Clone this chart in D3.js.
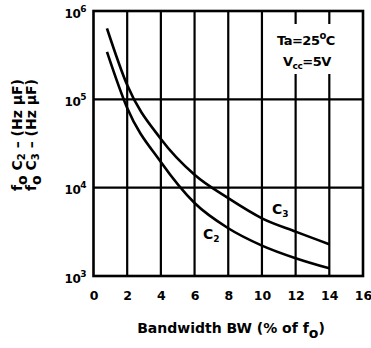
<!DOCTYPE html>
<html>
<head>
<meta charset="utf-8">
<script src="https://cdn.jsdelivr.net/npm/d3@7/dist/d3.min.js"></script>
<style>
  html, body { margin: 0; padding: 0; background: #fff; }
  svg { display: block; }
  text { font-family: "DejaVu Sans", sans-serif; font-weight: bold; fill: #000; }
</style>
</head>
<body>
<svg id="chart" width="371" height="348"></svg>
<script>
// ---- data ----
const bwC3 = [0.8, 2, 4, 6, 8, 10, 12, 14];
const valC3 = [6.35e5, 1.45e5, 3.56e4, 1.40e4, 7.6e3, 4.5e3, 3.18e3, 2.29e3];
const bwC2 = [0.8, 2, 4, 6, 8, 10, 12, 14];
const valC2 = [3.45e5, 7.98e4, 1.95e4, 6.7e3, 3.47e3, 2.21e3, 1.59e3, 1.22e3];
const xTicks = [0, 2, 4, 6, 8, 10, 12, 14, 16];
const yTicks = [1e3, 1e4, 1e5, 1e6];
const yExponents = ["3", "4", "5", "6"];

const FONT = "DejaVu Sans, sans-serif";
const svg = d3.select("#chart");
const x = d3.scaleLinear().domain([0, 16]).range([93.5, 363]);
const y = d3.scaleLog().domain([1e3, 1e6]).range([276, 11]);

// grid lines
const g = svg.append("g");
g.selectAll("line.vx").data(xTicks.slice(1, -1)).join("line")
  .attr("x1", d => x(d)).attr("x2", d => x(d))
  .attr("y1", y(1e6)).attr("y2", y(1e3))
  .attr("stroke", "#000").attr("stroke-width", 2.2);
g.selectAll("line.hy").data([1e4, 1e5]).join("line")
  .attr("x1", x(0)).attr("x2", x(16))
  .attr("y1", d => y(d)).attr("y2", d => y(d))
  .attr("stroke", "#000").attr("stroke-width", 2.2);

// white box behind annotation
g.append("rect").attr("x", 272).attr("y", 24).attr("width", 84).attr("height", 50).attr("fill", "#fff");

// frame
g.append("rect").attr("x", x(0)).attr("y", y(1e6))
  .attr("width", x(16) - x(0)).attr("height", y(1e3) - y(1e6))
  .attr("fill", "none").attr("stroke", "#000").attr("stroke-width", 2.6);

// curves
const line = d3.line().x(d => x(d[0])).y(d => y(d[1])).curve(d3.curveMonotoneX);
g.append("path").datum(bwC3.map((b, i) => [b, valC3[i]]))
  .attr("d", line).attr("fill", "none").attr("stroke", "#000").attr("stroke-width", 2.6);
g.append("path").datum(bwC2.map((b, i) => [b, valC2[i]]))
  .attr("d", line).attr("fill", "none").attr("stroke", "#000").attr("stroke-width", 2.6);

// curve labels
function subLabel(px, py, base, sub) {
  const t = g.append("text").attr("x", px).attr("y", py).attr("font-size", 14);
  t.append("tspan").text(base);
  t.append("tspan").attr("font-size", 9).attr("dy", 3).text(sub);
}
subLabel(272, 214, "C", "3");
subLabel(203, 239, "C", "2");

// annotation
const a1 = g.append("text").attr("x", 277).attr("y", 45).attr("font-size", 13).attr("letter-spacing", -0.5);
a1.append("tspan").text("Ta=25");
a1.append("tspan").attr("font-size", 10).attr("dy", -6).text("o");
a1.append("tspan").attr("dy", 6).text("C");
const a2 = g.append("text").attr("x", 283).attr("y", 66).attr("font-size", 13).attr("letter-spacing", -0.5);
a2.append("tspan").text("V");
a2.append("tspan").attr("font-size", 9).attr("dy", 3).text("cc");
a2.append("tspan").attr("dy", -3).text("=5V");

// x axis labels
const xAxis = d3.axisBottom(x).tickValues(xTicks).tickSize(0).tickPadding(0).tickFormat(d3.format("d"));
const xg = svg.append("g").attr("transform", "translate(0,291)").call(xAxis);
xg.select(".domain").remove();
xg.selectAll("text").attr("font-size", 12.5).attr("font-family", FONT).attr("font-weight", "bold").attr("fill", "#000");

// y axis labels
const yAxis = d3.axisLeft(y).tickValues(yTicks).tickSize(0).tickPadding(0).tickFormat(() => "");
const yg = svg.append("g").attr("transform", "translate(86,0)").call(yAxis);
yg.select(".domain").remove();
yg.selectAll("text").each(function(d, i) {
  const t = d3.select(this);
  t.attr("font-size", 12).attr("font-family", FONT).attr("font-weight", "bold").attr("fill", "#000").attr("dy", "0.5em").attr("letter-spacing", -0.5);
  t.append("tspan").text("10");
  t.append("tspan").attr("font-size", 9).attr("dy", -6).text(yExponents[i]);
});

// x title
const xt = svg.append("text").attr("x", 231).attr("y", 333).attr("font-size", 14).attr("text-anchor", "middle");
xt.append("tspan").text("Bandwidth BW (% of f");
xt.append("tspan").attr("dy", 5).text("o");
xt.append("tspan").attr("dy", -5).text(")");

// y title (two rotated lines)
function yTitle(cx, sub) {
  const t = svg.append("text").attr("transform", `translate(${cx},135) rotate(-90)`)
    .attr("text-anchor", "middle").attr("font-size", 14);
  t.append("tspan").text("f");
  t.append("tspan").attr("dy", 5).text("o");
  t.append("tspan").attr("dy", -5).text(" C");
  t.append("tspan").attr("dy", 3).attr("font-size", 10).text(sub);
  t.append("tspan").attr("dy", -3).text(" \u2013 (Hz \u03BCF)");
}
yTitle(22, "2");
yTitle(36, "3");
</script>
</body>
</html>
